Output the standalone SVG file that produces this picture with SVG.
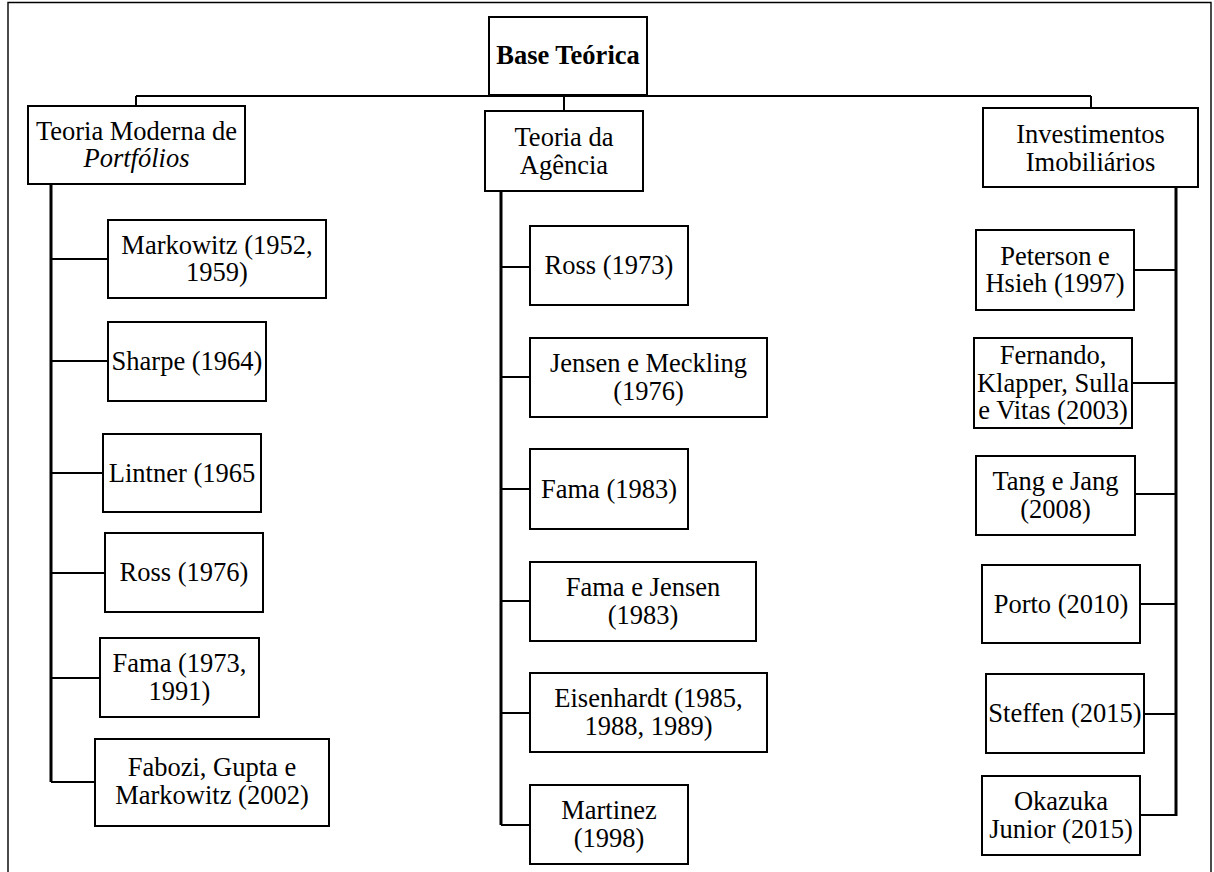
<svg xmlns="http://www.w3.org/2000/svg" width="1214" height="872" viewBox="0 0 1214 872">
  <style>
    .box { fill: #fff; stroke: #000; stroke-width: 2; }
    .t { font-family: "Liberation Serif", "Times New Roman", serif; font-size: 26.5px; fill: #000; text-anchor: middle; }
    .b { font-weight: bold; }
    .i { font-style: italic; }
    .frame { fill: none; stroke: #000; stroke-width: 1.4; }
    .link { fill: none; stroke: #000; stroke-width: 2; }
    .trunk { fill: none; stroke: #000; stroke-width: 3; }
  </style>
  <rect width="1214" height="872" fill="#fff"/>
  <!-- outer frame (open at the bottom) -->
  <path class="frame" d="M8,880 V2.5 H1211 V880"/>

  <g id="connectors">
    <!-- top bar and drops to the three themes -->
    <path class="link" d="M136,96 H1091"/>
    <path class="link" d="M136,96 V106 M564,96 V111 M1091,96 V108"/>
    <!-- trunks -->
    <path class="trunk" d="M51,184 V782"/>
    <path class="trunk" d="M501,191 V825"/>
    <path class="trunk" d="M1176,187 V816"/>
    <!-- left branches -->
    <path class="link" d="M51,259 H108 M51,361 H108 M51,473 H103 M51,573 H105 M51,678 H100 M51,782 H95"/>
    <!-- middle branches -->
    <path class="link" d="M501,267 H530 M501,377 H530 M501,489 H530 M501,601 H530 M501,713 H530 M501,825 H530"/>
    <!-- right branches -->
    <path class="link" d="M1134,270 H1176 M1132,383 H1176 M1135,494 H1176 M1140,604 H1176 M1144,714 H1176 M1140,815 H1176"/>
  </g>

  <g id="base">
    <rect class="box" x="489" y="17" width="158" height="78"/>
    <text class="t b" x="568" y="64">Base Teórica</text>
  </g>

  <g id="tmp">
    <rect class="box" x="28" y="106" width="217" height="78"/>
    <text class="t" x="136.5" y="139.5">Teoria Moderna de</text>
    <text class="t i" x="136.5" y="167">Portfólios</text>
  </g>
  <g id="agencia">
    <rect class="box" x="485" y="111" width="158" height="80"/>
    <text class="t" x="564" y="146">Teoria da</text>
    <text class="t" x="564" y="173.5">Agência</text>
  </g>
  <g id="imob">
    <rect class="box" x="983" y="108" width="215" height="79"/>
    <text class="t" x="1090.5" y="143">Investimentos</text>
    <text class="t" x="1090.5" y="170.5">Imobiliários</text>
  </g>

  <!-- left column -->
  <g id="markowitz">
    <rect class="box" x="108" y="220" width="218" height="78"/>
    <text class="t" x="217" y="253.5">Markowitz (1952,</text>
    <text class="t" x="217" y="281">1959)</text>
  </g>
  <g id="sharpe">
    <rect class="box" x="108" y="322" width="158" height="79"/>
    <text class="t" x="187" y="370">Sharpe (1964)</text>
  </g>
  <g id="lintner">
    <rect class="box" x="103" y="434" width="158" height="78"/>
    <text class="t" x="182" y="481.5">Lintner (1965</text>
  </g>
  <g id="ross1976">
    <rect class="box" x="105" y="533" width="158" height="79"/>
    <text class="t" x="184" y="581">Ross (1976)</text>
  </g>
  <g id="fama1973">
    <rect class="box" x="100" y="638" width="159" height="79"/>
    <text class="t" x="179.5" y="672">Fama (1973,</text>
    <text class="t" x="179.5" y="699.5">1991)</text>
  </g>
  <g id="fabozi">
    <rect class="box" x="95" y="739" width="234" height="87"/>
    <text class="t" x="212" y="776">Fabozi, Gupta e</text>
    <text class="t" x="212" y="803.5">Markowitz (2002)</text>
  </g>

  <!-- middle column -->
  <g id="ross1973">
    <rect class="box" x="530" y="226" width="158" height="79"/>
    <text class="t" x="609" y="274">Ross (1973)</text>
  </g>
  <g id="jensen">
    <rect class="box" x="530" y="338" width="237" height="79"/>
    <text class="t" x="648.5" y="372">Jensen e Meckling</text>
    <text class="t" x="648.5" y="399.5">(1976)</text>
  </g>
  <g id="fama1983">
    <rect class="box" x="530" y="449" width="158" height="80"/>
    <text class="t" x="609" y="497.5">Fama (1983)</text>
  </g>
  <g id="famajensen">
    <rect class="box" x="530" y="562" width="226" height="79"/>
    <text class="t" x="643" y="596">Fama e Jensen</text>
    <text class="t" x="643" y="623.5">(1983)</text>
  </g>
  <g id="eisenhardt">
    <rect class="box" x="530" y="673" width="237" height="79"/>
    <text class="t" x="648.5" y="707">Eisenhardt (1985,</text>
    <text class="t" x="648.5" y="734.5">1988, 1989)</text>
  </g>
  <g id="martinez">
    <rect class="box" x="530" y="785" width="158" height="79"/>
    <text class="t" x="609" y="819">Martinez</text>
    <text class="t" x="609" y="846.5">(1998)</text>
  </g>

  <!-- right column -->
  <g id="peterson">
    <rect class="box" x="976" y="230" width="158" height="80"/>
    <text class="t" x="1055" y="264.5">Peterson e</text>
    <text class="t" x="1055" y="292">Hsieh (1997)</text>
  </g>
  <g id="fernando">
    <rect class="box" x="974" y="338" width="158" height="90"/>
    <text class="t" x="1053" y="364">Fernando,</text>
    <text class="t" x="1053" y="391.5">Klapper, Sulla</text>
    <text class="t" x="1053" y="419">e Vitas (2003)</text>
  </g>
  <g id="tang">
    <rect class="box" x="976" y="456" width="159" height="79"/>
    <text class="t" x="1055.5" y="490">Tang e Jang</text>
    <text class="t" x="1055.5" y="517.5">(2008)</text>
  </g>
  <g id="porto">
    <rect class="box" x="982" y="565" width="158" height="78"/>
    <text class="t" x="1061" y="612.5">Porto (2010)</text>
  </g>
  <g id="steffen">
    <rect class="box" x="986" y="674" width="158" height="79"/>
    <text class="t" x="1065" y="722">Steffen (2015)</text>
  </g>
  <g id="okazuka">
    <rect class="box" x="982" y="776" width="158" height="79"/>
    <text class="t" x="1061" y="810">Okazuka</text>
    <text class="t" x="1061" y="837.5">Junior (2015)</text>
  </g>
</svg>
